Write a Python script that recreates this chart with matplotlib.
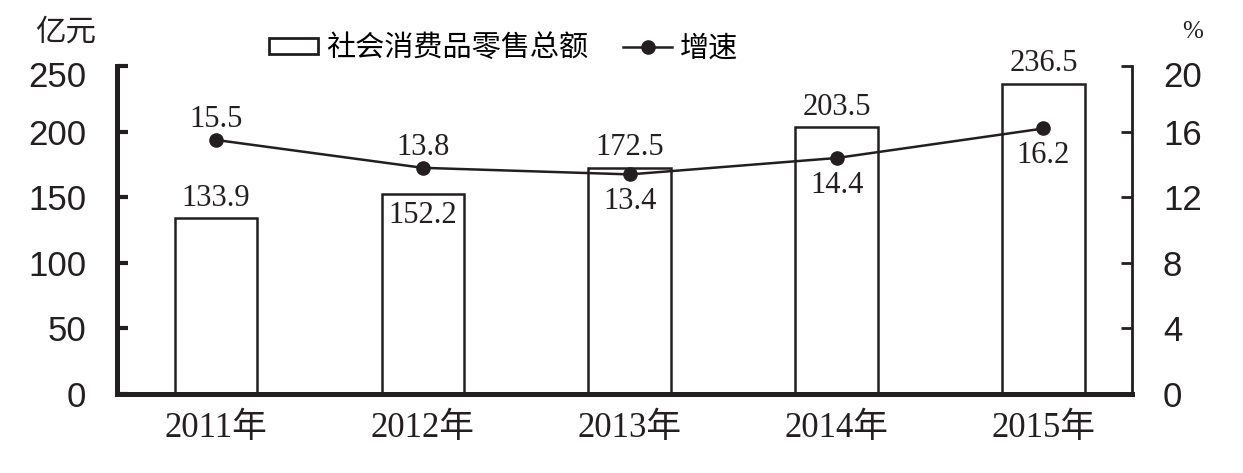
import matplotlib
matplotlib.use('Agg')
import matplotlib.pyplot as plt
import matplotlib.transforms as mtransforms
from matplotlib.patches import Patch
from matplotlib.lines import Line2D

years = ['2011年', '2012年', '2013年', '2014年', '2015年']
sales = [133.9, 152.2, 172.5, 203.5, 236.5]
growth = [15.5, 13.8, 13.4, 14.4, 16.2]
# where the growth label sits: above (+1) or below (-1) the dot
growth_side = [1, 1, -1, -1, -1]
# sales label above the bar (+1) or just inside its top (-1)
sales_side = [1, -1, 1, 1, 1]

ink = '#231f20'
cjk = ['Noto Sans CJK SC', 'DejaVu Sans']
serif = ['Liberation Serif', 'Noto Sans CJK SC']
sans = ['Liberation Sans', 'DejaVu Sans']

fig = plt.figure(figsize=(12.43, 4.73), dpi=100)
ax = fig.add_axes([0.094, 0.167, 0.817, 0.693])
ax2 = ax.twinx()

x = list(range(len(years)))
ax.bar(x, sales, width=0.4, facecolor='white', edgecolor=ink, linewidth=1.8, zorder=2)
for xi, v, s in zip(x, sales, sales_side):
    ax.annotate(f'{v:.1f}', (xi, v), xytext=(0, 4 if s > 0 else -5), textcoords='offset points',
                ha='center', va='bottom' if s > 0 else 'top', fontsize=22,
                family=serif, color=ink)

ax2.plot(x, growth, color=ink, linewidth=1.8, marker='o', markersize=9.5, zorder=3)
for xi, v, s in zip(x, growth, growth_side):
    ax2.annotate(f'{v:.1f}', (xi, v), xytext=(0, 4 if s > 0 else -9), textcoords='offset points',
                 ha='center', va='bottom' if s > 0 else 'top', fontsize=22,
                 family=serif, color=ink)

ax.set_xlim(-0.48, 4.43)
ax.set_ylim(0, 250)
ax2.set_ylim(0, 20)
ax.set_yticks([0, 50, 100, 150, 200, 250])
ax2.set_yticks([0, 4, 8, 12, 16, 20])
ax.set_xticks(x)
ax.set_xticklabels(years, family=serif, fontsize=25, color=ink)
ax.tick_params(axis='x', length=0, pad=13)
ax.tick_params(axis='y', direction='in', length=8, width=3, labelsize=25, pad=22,
               labelcolor=ink, color=ink)
ax2.tick_params(axis='y', direction='in', length=8, width=2, labelsize=25, pad=22,
                labelcolor=ink, color=ink)
for lab in ax.get_yticklabels() + ax2.get_yticklabels():
    lab.set_family(sans)

# the top labels sit a little below their ticks in the original
shift = mtransforms.ScaledTranslation(0, -8 / 100, fig.dpi_scale_trans)
for lab in (ax.get_yticklabels()[-1], ax2.get_yticklabels()[-1]):
    lab.set_transform(lab.get_transform() + shift)

for a in (ax, ax2):
    a.spines['top'].set_visible(False)
    for sp in a.spines.values():
        sp.set_color(ink)
ax.spines['left'].set_linewidth(3.6)
ax.spines['bottom'].set_linewidth(3.6)
ax2.spines['right'].set_linewidth(2)
ax2.spines['left'].set_visible(False)
ax2.spines['bottom'].set_visible(False)

fig.text(0.028, 0.932, '亿元', family=cjk, fontsize=22, color=ink, va='center')
fig.text(0.951, 0.932, '%', family=serif, fontsize=18, color=ink, va='center')

handles = [Patch(facecolor='white', edgecolor=ink, linewidth=2),
           Line2D([], [], color=ink, linewidth=1.8, marker='o', markersize=9.5)]
fig.legend(handles, ['社会消费品零售总额', '增速'], loc='center', bbox_to_anchor=(0.405, 0.898),
           ncol=2, frameon=False, prop={'family': cjk, 'size': 21},
           handlelength=1.7, handleheight=0.45, handletextpad=0.25, columnspacing=1.2,
           borderpad=0, borderaxespad=0)

fig.savefig('out.png', dpi=100)
